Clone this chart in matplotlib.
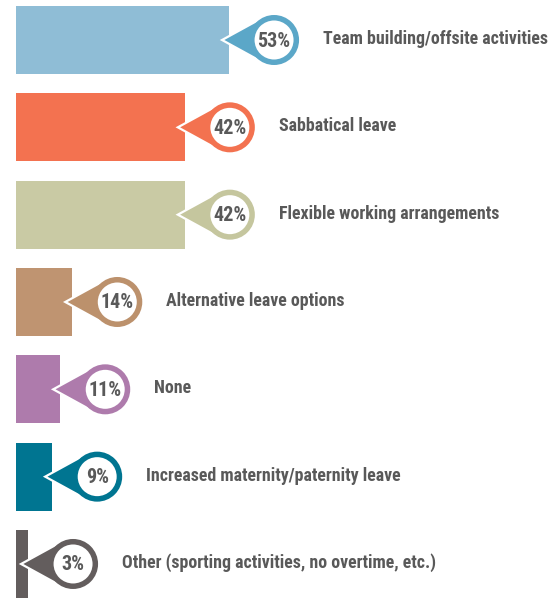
import matplotlib
matplotlib.use("Agg")
import matplotlib.pyplot as plt
import matplotlib.transforms as mtransforms
from matplotlib.patches import Circle, Polygon
from matplotlib import font_manager
import numpy as np

# Survey results
categories = [
    "Team building/offsite activities",
    "Sabbatical leave",
    "Flexible working arrangements",
    "Alternative leave options",
    "None",
    "Increased maternity/paternity leave",
    "Other (sporting activities, no overtime, etc.)",
]
values = [53, 42, 42, 14, 11, 9, 3]
bar_colors = ["#8fbdd6", "#f37250", "#c9caa4", "#bf9471", "#ae7bac", "#007591", "#635d5d"]
accent_colors = ["#5ba7c8", "#f37250", "#c5c69e", "#bc916c", "#ae7bac", "#007591", "#635d5d"]

TEXT = "#595959"

# pick a condensed face if one is installed
names = {f.name for f in font_manager.fontManager.ttflist}
cond = None
for cand in ["Roboto Condensed", "Liberation Sans Narrow", "Open Sans Condensed"]:
    if cand in names:
        cond = cand
        break
if cond is None:
    font_kw = dict(family="DejaVu Sans", fontstretch="condensed")
else:
    font_kw = dict(family=cond)

W, H = 558, 599
fig = plt.figure(figsize=(W / 100, H / 100), dpi=100)
fig.patch.set_facecolor("white")

left_px = 16
px_per_pct = 4.02
step_px = 87.33
first_center = 40

ax = fig.add_axes([left_px / W, 0, (W - left_px) / W, 1])
ax.set_xlim(0, (W - left_px) / px_per_pct)
ax.set_ylim((H - first_center) / step_px, -first_center / step_px)
ax.axis("off")

y = np.arange(len(values))
ax.barh(y, values, height=68 / step_px, color=bar_colors, left=0)

# callout geometry in pixels, relative to the bar end
cx, r_out, ring = 45, 25, 5.5
tip = -7
d = cx - tip
theta = np.arccos(r_out / d)
p_up = (cx - r_out * np.cos(theta), r_out * np.sin(theta))
p_dn = (cx - r_out * np.cos(theta), -r_out * np.sin(theta))

for i, (v, col) in enumerate(zip(values, accent_colors)):
    tr = mtransforms.ScaledTranslation(v, i, ax.transData)
    base = mtransforms.IdentityTransform() + tr
    # pointer
    ax.add_patch(Polygon([(tip, 0), p_up, (cx, 0), p_dn], closed=True,
                         facecolor=col, edgecolor="white", linewidth=1.6,
                         joinstyle="miter", transform=base, zorder=3))
    # ring
    ax.add_patch(Circle((cx, 0), r_out - ring / 2, facecolor="white",
                        edgecolor=col, linewidth=ring * 72 / 100,
                        transform=base, zorder=4))
    ax.annotate(f"{v}%", xy=(v, i), xytext=(cx, -1), textcoords="offset pixels",
                ha="center", va="center", fontsize=14.5, fontweight="bold",
                color=TEXT, zorder=5, **font_kw)
    ax.annotate(categories[i], xy=(v, i), xytext=(94, 1), textcoords="offset pixels",
                ha="left", va="center", fontsize=12.9, fontweight="bold",
                color=TEXT, zorder=5, **font_kw)

fig.savefig("out.png", dpi=100, facecolor="white")
